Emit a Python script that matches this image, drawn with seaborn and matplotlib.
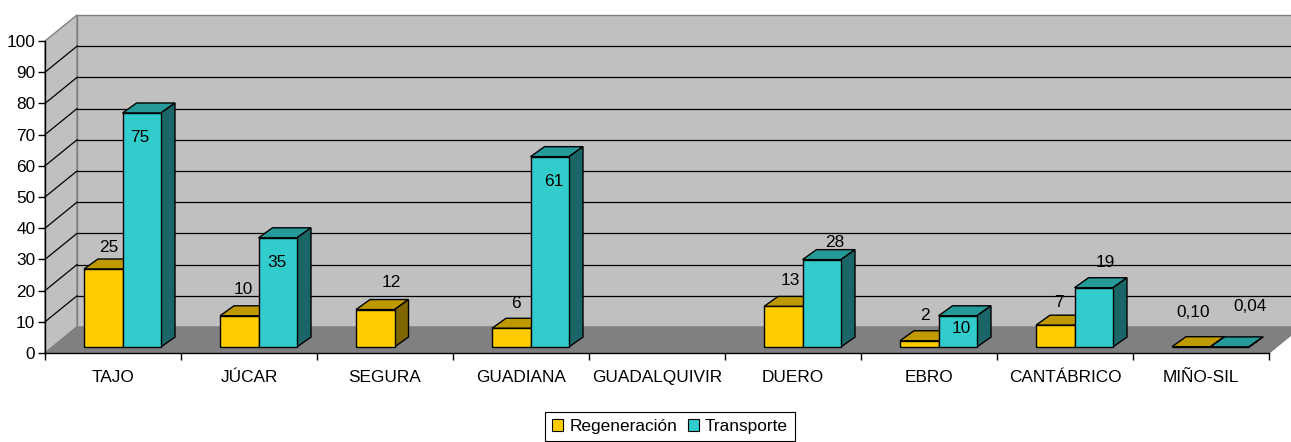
import matplotlib
matplotlib.use('Agg')
import matplotlib.pyplot as plt
from matplotlib.patches import Polygon, Patch
import pandas as pd
import seaborn as sns

cuencas = ['TAJO', 'JÚCAR', 'SEGURA', 'GUADIANA', 'GUADALQUIVIR', 'DUERO', 'EBRO', 'CANTÁBRICO', 'MIÑO-SIL']
regeneracion = [25, 10, 12, 6, None, 13, 2, 7, 0.10]
transporte = [75, 35, None, 61, None, 28, 10, 19, 0.04]
series = ['Regeneración', 'Transporte']
yticks = list(range(0, 101, 10))

# nudges for the value labels (pixels, from the front-top centre of each bar)
lab_dx = {'Regeneración': [5, 4, 16, 5, 0, 7, 6, 4, 2],
          'Transporte': [-2, -1, 0, 4, 0, 13, 4, 12, 20]}
lab_dy = {'Regeneración': [28, 32, 33, 31, 0, 32, 31, 29, 40],
          'Transporte': [-19, -19, 0, -19, 0, 23, -7, 31, 46]}

colors = {'Regeneración': '#ffcc00', 'Transporte': '#33cccc'}
tops = {'Regeneración': '#bf9900', 'Transporte': '#269999'}
sides = {'Regeneración': '#806600', 'Transporte': '#1a6666'}

plt.rcParams['font.family'] = ['Liberation Sans', 'DejaVu Sans']
plt.rcParams['font.size'] = 12.4

df = pd.DataFrame({'cuenca': cuencas, 'Regeneración': regeneracion, 'Transporte': transporte})
df = df.melt(id_vars='cuenca', var_name='serie', value_name='valor').dropna()

fig = plt.figure(figsize=(12.91, 4.42), dpi=100)
ax = fig.add_axes([45 / 1291, 89 / 442, 1224 / 1291, 312 / 442])
ax.patch.set_visible(False)

# fake 3d: pixels per category / per unit
PXC, PXV = 136, 3.12
DX, DY = 32 / PXC, 26 / PXV      # depth of the walls
BDX, BDY = 14 / PXC, 10 / PXV    # depth of each bar
BASE = 6 / PXV                   # bars stand a bit back on the floor
SHIFT = 9.5 / PXC

sns.barplot(data=df, x='cuenca', y='valor', hue='serie', order=cuencas, hue_order=series,
            palette=colors, saturation=1, width=0.566, errorbar=None, legend=False,
            edgecolor='black', linewidth=1, zorder=3, ax=ax)

x0, x1 = -0.5, len(cuencas) - 0.5
wall_kw = dict(closed=True, clip_on=False, zorder=0.5, edgecolor='#808080', linewidth=1)
ax.add_patch(Polygon([(x0 + DX, DY), (x1 + DX, DY), (x1 + DX, 100 + DY), (x0 + DX, 100 + DY)],
                     facecolor='#c0c0c0', **wall_kw))
ax.add_patch(Polygon([(x0, 0), (x0 + DX, DY), (x0 + DX, 100 + DY), (x0, 100)],
                     facecolor='#c0c0c0', **wall_kw))
ax.add_patch(Polygon([(x0, 0), (x1, 0), (x1 + DX, DY), (x0 + DX, DY)],
                     facecolor='#808080', **wall_kw))
for v in yticks[1:-1]:
    ax.plot([x0 + DX, x1 + DX], [v + DY, v + DY], color='black', lw=0.9, clip_on=False, zorder=0.6)
    ax.plot([x0, x0 + DX], [v, v + DY], color='black', lw=0.9, clip_on=False, zorder=0.6)

for cont, s in zip(ax.containers, series):
    for p in cont:
        p.set_x(p.get_x() + SHIFT)
        p.set_y(BASE)
        x, w, h = p.get_x(), p.get_width(), p.get_height()
        top = [(x, BASE + h), (x + w, BASE + h), (x + w + BDX, BASE + h + BDY), (x + BDX, BASE + h + BDY)]
        side = [(x + w, BASE), (x + w + BDX, BASE + BDY), (x + w + BDX, BASE + h + BDY), (x + w, BASE + h)]
        ax.add_patch(Polygon(top, closed=True, facecolor=tops[s], edgecolor='black', lw=1, zorder=2.8, clip_on=False))
        ax.add_patch(Polygon(side, closed=True, facecolor=sides[s], edgecolor='black', lw=1, zorder=2.8, clip_on=False))

        i = int(round(x + w / 2))
        txt = f'{h:.0f}' if h >= 1 else f'{h:.2f}'.replace('.', ',')
        ax.annotate(txt, (x + w / 2, h), xytext=(lab_dx[s][i], lab_dy[s][i]), textcoords='offset pixels',
                    ha='center', va='center', zorder=4, annotation_clip=False)

ax.set_xlim(x0, x1)
ax.set_ylim(0, 100)
ax.set_xlabel('')
ax.set_ylabel('')
ax.set_yticks(yticks)
ax.set_xticks(range(len(cuencas)), cuencas)
ax.set_xticks([i - 0.5 for i in range(len(cuencas) + 1)], minor=True)
ax.tick_params(axis='x', which='major', length=0, pad=12)
ax.tick_params(axis='x', which='minor', length=5, width=1, color='black')
ax.tick_params(axis='y', length=5, width=1, pad=2)
for sp in ['top', 'right']:
    ax.spines[sp].set_visible(False)
for sp in ['left', 'bottom']:
    ax.spines[sp].set_color('black')
    ax.spines[sp].set_linewidth(1)

handles = [Patch(facecolor=colors[s], edgecolor='black', lw=0.8, label=s) for s in series]
leg = fig.legend(handles=handles, loc='upper center', bbox_to_anchor=(670 / 1291, 1 - 412 / 442), ncol=2,
                 frameon=True, fancybox=False, edgecolor='black', framealpha=1, handlelength=0.65,
                 handleheight=0.65, handletextpad=0.35, columnspacing=0.6, borderpad=0.4, borderaxespad=0)
leg.get_frame().set_linewidth(0.8)

fig.savefig('out.png', dpi=100)
